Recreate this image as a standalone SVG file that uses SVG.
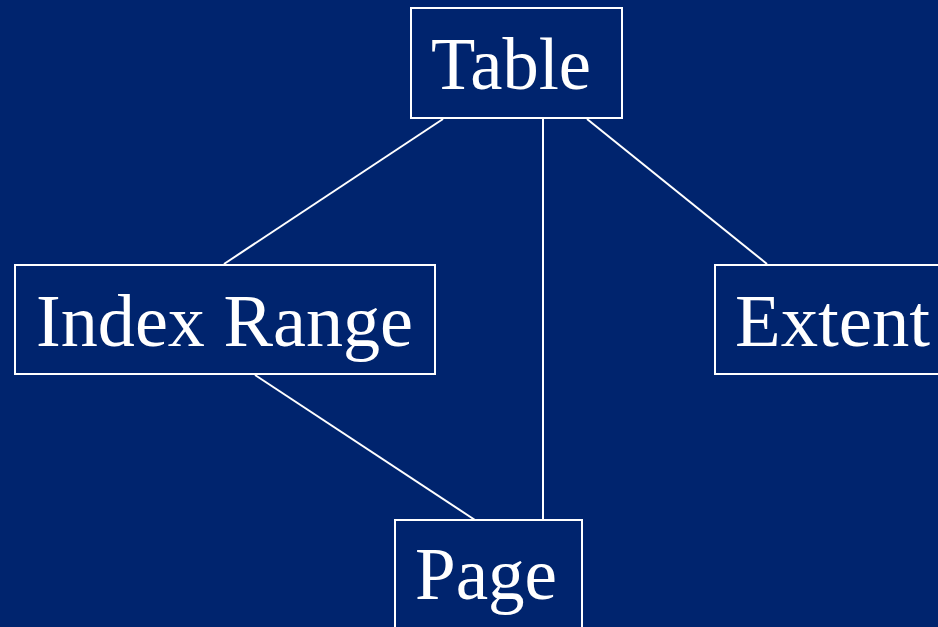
<svg xmlns="http://www.w3.org/2000/svg" width="938" height="627" viewBox="0 0 938 627">
<style>
.box{fill:none;stroke:#fff;stroke-width:2}
.lbl{fill:#fff;font-family:"Liberation Serif","Times New Roman",serif;font-size:73px}
.edge{stroke:#fff;stroke-width:2;fill:none}
</style>
<rect width="938" height="627" fill="#00246e"/>
<g id="connectors">
<line class="edge" x1="443" y1="119" x2="224" y2="264"/>
<line class="edge" x1="543" y1="119" x2="543" y2="520"/>
<line class="edge" x1="587" y1="119" x2="767" y2="264"/>
<line class="edge" x1="255" y1="375" x2="475" y2="520"/>
</g>
<g id="table"><rect class="box" x="411" y="8" width="211" height="110"/><text class="lbl" x="431" y="89" textLength="160" lengthAdjust="spacingAndGlyphs">Table</text></g>
<g id="index-range"><rect class="box" x="15" y="265" width="420" height="109"/><text class="lbl" x="36" y="346" textLength="377" lengthAdjust="spacingAndGlyphs">Index Range</text></g>
<g id="extent"><rect class="box" x="715" y="265" width="240" height="109"/><text class="lbl" x="735" y="346" textLength="195" lengthAdjust="spacingAndGlyphs">Extent</text></g>
<g id="page"><rect class="box" x="395" y="520" width="187" height="120"/><text class="lbl" x="415" y="599" textLength="142" lengthAdjust="spacingAndGlyphs">Page</text></g>
</svg>
